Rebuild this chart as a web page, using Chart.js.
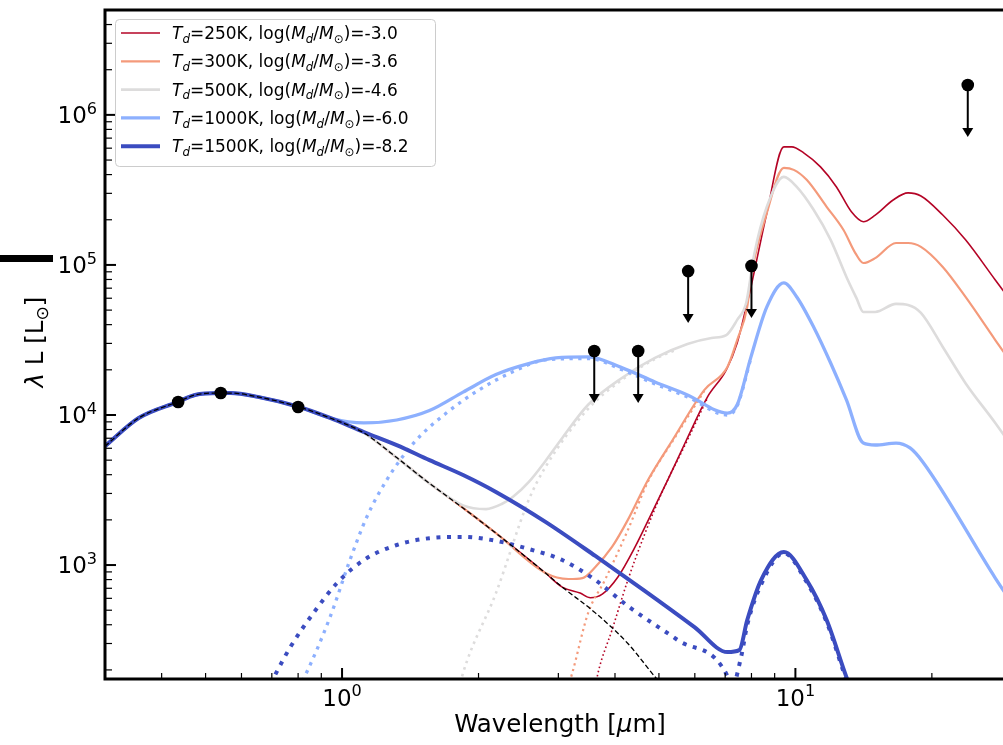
<!DOCTYPE html>
<html>
<head>
<meta charset="utf-8">
<script src="https://cdn.jsdelivr.net/npm/chart.js@4/dist/chart.umd.min.js"></script>
<style>
  html, body { margin: 0; padding: 0; overflow: hidden; background: #fff; }
  canvas { display: block; }
</style>
</head>
<body>
<canvas id="sedChart" width="1018" height="745"></canvas>
<script>
// stellar photosphere (black dashed), wavelength in micron, lambda*L in Lsun
const starLam = [0.3, 0.356, 0.433, 0.474, 0.535, 0.568, 0.652, 0.805, 0.941, 1.117, 1.32, 1.559, 1.849, 2.185, 2.81, 3.06, 3.62, 4.27, 4.97, 5.6];
const starL = [6.2e3, 9.55e3, 1.22e4, 1.36e4, 1.40e4, 1.40e4, 1.32e4, 1.13e4, 9.55e3, 7.6e3, 5.2e3, 3.5e3, 2.40e3, 1.63e3, 885, 713, 480, 300, 171, 115];

// star + dust totals: each one follows the photosphere up to where the dust takes over
const tail1500Lam = [1.117, 1.32, 1.559, 1.849, 2.185, 2.81, 3.62, 4.66, 5.99, 7.08, 7.52, 7.83, 8.4, 9.43, 10.59, 11.72, 12.96, 13.8];
const tail1500L = [7.7e3, 6.3e3, 5.0e3, 3.98e3, 3.07e3, 1.94e3, 1.15e3, 671, 386, 263, 271, 430, 794, 1.22e3, 794, 430, 179, 110];
const tail1000Lam = [1.117, 1.32, 1.559, 1.849, 2.185, 2.58, 2.96, 3.49, 4.15, 4.9, 5.78, 7.08, 7.44, 7.98, 8.65, 9.43, 10.07, 10.97, 11.96, 12.96, 14.12, 15.0, 16.67, 17.9, 19.1, 27.6, 30];
const tail1000L = [8.85e3, 9.26e3, 1.07e4, 1.42e4, 1.86e4, 2.2e4, 2.4e4, 2.44e4, 2.06e4, 1.66e4, 1.36e4, 1.03e4, 1.17e4, 2.44e4, 5.25e4, 7.59e4, 6.12e4, 3.86e4, 2.22e4, 1.26e4, 6.5e3, 6.31e3, 6.5e3, 6.03e3, 4.86e3, 819, 560];
const tail500Lam = [1.849, 2.078, 2.25, 2.38, 2.58, 2.81, 3.06, 3.49, 4.15, 4.9, 5.78, 6.53, 7.04, 7.44, 7.79, 8.11, 8.65, 9.43, 10.07, 10.97, 11.96, 12.96, 13.63, 14.12, 15.0, 16.67, 17.72, 18.92, 21.14, 23.73, 27.6, 30];
const tail500L = [2.5e3, 2.36e3, 2.55e3, 2.84e3, 3.57e3, 4.94e3, 7.03e3, 1.17e4, 1.77e4, 2.4e4, 2.97e4, 3.26e4, 3.41e4, 4.3e4, 5.6e4, 1.17e5, 2.44e5, 3.86e5, 3.31e5, 2.33e5, 1.47e5, 8.32e4, 6.03e4, 4.86e4, 4.86e4, 5.5e4, 5.41e4, 4.79e4, 2.84e4, 1.63e4, 8.85e3, 6.2e3];
const tail300Lam = [3.16, 3.39, 3.62, 3.94, 4.27, 4.73, 5.36, 6.3, 7.08, 7.44, 7.83, 7.98, 8.65, 9.43, 9.92, 10.59, 11.72, 12.77, 13.56, 14.12, 15.0, 16.67, 17.72, 18.92, 21.14, 23.73, 27.6, 30];
const tail300L = [807, 819, 970, 1.32e3, 2.0e3, 3.69e3, 6.81e3, 1.47e4, 2.09e4, 3.16e4, 5.25e4, 8.32e4, 2.22e5, 4.43e5, 4.30e5, 3.69e5, 2.44e5, 1.71e5, 1.2e5, 1.03e5, 1.11e5, 1.4e5, 1.4e5, 1.32e5, 9.7e4, 6.12e4, 3.16e4, 2.2e4];
const tail250Lam = [3.35, 3.53, 3.75, 4.06, 4.43, 4.82, 5.23, 5.75, 6.4, 7.04, 7.44, 7.79, 7.98, 8.65, 9.43, 9.82, 10.43, 11.36, 12.32, 13.29, 14.12, 15.0, 16.43, 17.72, 18.92, 21.14, 23.73, 27.6, 30];
const tail250L = [650, 605, 640, 832, 1.32e3, 2.22e3, 3.69e3, 6.81e3, 1.32e4, 2.0e4, 3.02e4, 5.25e4, 7.13e4, 2.22e5, 6.12e5, 6.12e5, 5.58e5, 4.5e5, 3.31e5, 2.26e5, 1.94e5, 2.15e5, 2.71e5, 3.02e5, 2.88e5, 2.15e5, 1.47e5, 7.94e4, 5.65e4];

// dust-only emission (dotted)
const dust1500Lam = [0.678, 0.769, 0.868, 0.975, 1.117, 1.32, 1.559, 1.849, 2.185, 2.58, 3.06, 3.62, 4.27, 5.5, 7.08, 7.22, 7.59, 7.83, 8.4, 9.43, 10.59, 11.72, 12.96, 13.8];
const dust1500L = [140, 284, 486, 759, 1.08e3, 1.36e3, 1.51e3, 1.54e3, 1.45e3, 1.28e3, 1.08e3, 794, 533, 316, 182, 150, 244, 399, 741, 1.2e3, 770, 417, 171, 105];
const dust1000Lam = [0.8, 0.826, 0.941, 1.041, 1.134, 1.255, 1.438, 1.698, 2.006, 2.38, 2.81, 3.49, 4.15, 4.9, 5.78, 7.08, 7.44, 7.98];
const dust1000L = [150, 179, 450, 1.08e3, 2.09e3, 3.69e3, 6.5e3, 1.03e4, 1.47e4, 1.94e4, 2.33e4, 2.38e4, 2.0e4, 1.61e4, 1.32e4, 1.0e4, 1.15e4, 2.4e4];
const dust500Lam = [1.78, 1.849, 2.185, 2.58, 2.81, 3.49, 4.15, 4.9, 5.5];
const dust500L = [120, 191, 650, 2.71e3, 4.5e3, 1.1e4, 1.72e4, 2.36e4, 2.75e4];
const dust300Lam = [3.12, 3.22, 3.49, 3.8, 4.27, 4.73, 5.36, 6.3];
const dust300L = [140, 191, 479, 794, 1.71e3, 3.6e3, 6.7e3, 1.45e4];
const dust250Lam = [3.6, 3.67, 3.94, 4.27, 4.66, 5.07, 5.75, 6.4];
const dust250L = [140, 191, 369, 794, 1.63e3, 3.02e3, 6.6e3, 1.3e4];

// photometry: optical detections and IR upper limits
const detLam = [0.435, 0.54, 0.80];
const detL = [1.22e4, 1.40e4, 1.13e4];
const ulLam = [3.6, 4.5, 5.8, 8.0, 24];
const ulL = [2.67e4, 2.67e4, 9.1e4, 9.85e4, 1.58e6];

// model labels: temperature and log dust mass
const modelT = ['250', '300', '500', '1000', '1500'];
const modelM = ['-3.0', '-3.6', '-4.6', '-6.0', '-8.2'];
const modelColor = ['#b40426', '#f49a7b', '#dddcdc', '#8db0fe', '#3b4cc0'];
const modelWidth = [1.6, 2.2, 2.6, 3.3, 4];

const xTicks = [1, 10];
const yTicks = [1e3, 1e4, 1e5, 1e6];

function pts(lam, L) {
  return lam.map((v, i) => ({ x: v, y: L[i] }));
}

function total(n, lam, L) {
  return pts(starLam.slice(0, n).concat(lam), starL.slice(0, n).concat(L));
}

const totals = [
  total(16, tail250Lam, tail250L),
  total(15, tail300Lam, tail300L),
  total(12, tail500Lam, tail500L),
  total(9, tail1000Lam, tail1000L),
  total(9, tail1500Lam, tail1500L)
];
const dusts = [
  pts(dust250Lam, dust250L),
  pts(dust300Lam, dust300L),
  pts(dust500Lam, dust500L),
  pts(dust1000Lam, dust1000L),
  pts(dust1500Lam, dust1500L)
];

// bottom to top
let datasets = [];
for (let i = 0; i < 5; i++) {
  const w = modelWidth[i];
  datasets.push({
    data: dusts[i], borderColor: modelColor[i], borderWidth: w,
    borderDash: [w, w * 1.65], borderCapStyle: 'butt'
  });
  datasets.push({ data: totals[i], borderColor: modelColor[i], borderWidth: w });
}
datasets.push({ data: pts(starLam, starL), borderColor: '#000', borderWidth: 1.3, borderDash: [5, 2.6] });
datasets.forEach(d => {
  d.showLine = true;
  d.pointRadius = 0;
  d.cubicInterpolationMode = 'monotone';
  d.clip = 0;
});
datasets.push({ data: pts(ulLam, ulL), showLine: false, pointRadius: 6.3, backgroundColor: '#000', borderWidth: 0 });
datasets.push({ data: pts(detLam, detL), showLine: false, pointRadius: 6.3, backgroundColor: '#000', borderWidth: 0 });
datasets.forEach((d, i) => { d.order = -i; });

const FONT = '"DejaVu Sans"';

function richWidth(ctx, parts, size) {
  let w = 0;
  parts.forEach(p => {
    const s = (p.sub || p.sup) ? size * 0.7 : size;
    ctx.font = (p.it ? 'italic ' : '') + s + 'px ' + FONT;
    w += ctx.measureText(p.t).width;
  });
  return w;
}

function drawRich(ctx, parts, x, y, size) {
  parts.forEach(p => {
    const s = (p.sub || p.sup) ? size * 0.7 : size;
    ctx.font = (p.it ? 'italic ' : '') + s + 'px ' + FONT;
    const dy = p.sub ? size * 0.22 : (p.sup ? -size * 0.42 : 0);
    ctx.fillText(p.t, x, y + dy);
    x += ctx.measureText(p.t).width;
  });
}

function powLabel(v) {
  return [{ t: '10' }, { t: String(Math.round(Math.log10(v))), sup: true }];
}

// frame, inward ticks, labels, upper-limit arrows and legend
const framePlugin = {
  id: 'framePlugin',
  afterDatasetsDraw(chart) {
    const { ctx, chartArea: a, scales: { x, y } } = chart;
    ctx.save();
    ctx.fillStyle = '#000';
    ctx.strokeStyle = '#000';

    // upper limit arrows
    ulLam.forEach((lam, i) => {
      const px = x.getPixelForValue(lam);
      const py = y.getPixelForValue(ulL[i]);
      ctx.lineWidth = 2;
      ctx.beginPath();
      ctx.moveTo(px, py);
      ctx.lineTo(px, py + 44);
      ctx.stroke();
      ctx.beginPath();
      ctx.moveTo(px - 5.5, py + 43);
      ctx.lineTo(px + 5.5, py + 43);
      ctx.lineTo(px, py + 52);
      ctx.closePath();
      ctx.fill();
    });

    // minor and major ticks pointing inward
    for (let d = -1; d <= 1; d++) {
      for (let m = 1; m <= 9; m++) {
        const v = m * Math.pow(10, d);
        if (v < x.min || v > x.max) continue;
        const px = x.getPixelForValue(v);
        const major = m === 1;
        ctx.lineWidth = major ? 2 : 1.2;
        ctx.beginPath();
        ctx.moveTo(px, a.bottom);
        ctx.lineTo(px, a.bottom - (major ? 11 : 6));
        ctx.stroke();
      }
    }
    for (let d = 2; d <= 6; d++) {
      for (let m = 1; m <= 9; m++) {
        const v = m * Math.pow(10, d);
        if (v < y.min || v > y.max) continue;
        const py = y.getPixelForValue(v);
        const major = m === 1;
        ctx.lineWidth = major ? 2 : 1.2;
        ctx.beginPath();
        ctx.moveTo(a.left, py);
        ctx.lineTo(a.left + (major ? 11 : 7), py);
        ctx.stroke();
      }
    }

    // spines
    ctx.lineWidth = 3;
    ctx.beginPath();
    ctx.moveTo(a.right + 2, a.top);
    ctx.lineTo(a.left, a.top);
    ctx.lineTo(a.left, a.bottom);
    ctx.lineTo(a.right + 2, a.bottom);
    ctx.stroke();

    // tick labels
    ctx.textBaseline = 'alphabetic';
    const ts = 23;
    xTicks.forEach(v => {
      const parts = powLabel(v);
      const w = richWidth(ctx, parts, ts);
      drawRich(ctx, parts, x.getPixelForValue(v) - w / 2, 706, ts);
    });
    yTicks.forEach(v => {
      const parts = powLabel(v);
      const w = richWidth(ctx, parts, ts);
      drawRich(ctx, parts, 97 - w, y.getPixelForValue(v) + ts * 0.365, ts);
    });

    // axis titles
    const as = 24.5;
    const xt = [{ t: 'Wavelength [' }, { t: 'μ', it: true }, { t: 'm]' }];
    const xw = richWidth(ctx, xt, as);
    drawRich(ctx, xt, 560 - xw / 2, 732, as);

    const yt = [{ t: 'λ', it: true }, { t: ' L [L' }, { t: '⊙', sub: true }, { t: ']' }];
    const yw = richWidth(ctx, yt, as);
    ctx.save();
    ctx.translate(43, 342);
    ctx.rotate(-Math.PI / 2);
    drawRich(ctx, yt, -yw / 2, 0, as);
    ctx.restore();

    // stray bar at the left edge
    ctx.fillRect(0, 255, 53, 7);

    // legend
    const lx = 115, ly = 19, lw = 320, lh = 147;
    ctx.beginPath();
    ctx.roundRect(lx + 0.5, ly + 0.5, lw, lh, 4);
    ctx.fillStyle = 'rgba(255,255,255,0.8)';
    ctx.fill();
    ctx.strokeStyle = '#cccccc';
    ctx.lineWidth = 1;
    ctx.stroke();
    const fs = 17;
    modelT.forEach((t, i) => {
      const ry = 33 + i * 28.3;
      ctx.strokeStyle = modelColor[i];
      ctx.lineWidth = modelWidth[i];
      ctx.beginPath();
      ctx.moveTo(121, ry);
      ctx.lineTo(160, ry);
      ctx.stroke();
      ctx.fillStyle = '#000';
      drawRich(ctx, [
        { t: 'T', it: true }, { t: 'd', it: true, sub: true },
        { t: '=' + t + 'K, log(' },
        { t: 'M', it: true }, { t: 'd', it: true, sub: true }, { t: '/' },
        { t: 'M', it: true }, { t: '⊙', sub: true },
        { t: ')=' + modelM[i] }
      ], 172, ry + fs * 0.36, fs);
    });
    ctx.restore();
  }
};

new Chart(document.getElementById('sedChart'), {
  type: 'scatter',
  data: { datasets: datasets },
  options: {
    responsive: false,
    animation: false,
    devicePixelRatio: 1,
    events: [],
    layout: { padding: { left: 105, right: 0, top: 10, bottom: 66 } },
    plugins: { legend: { display: false }, tooltip: { enabled: false } },
    scales: {
      x: { type: 'logarithmic', min: 0.3, max: 30, display: false },
      y: { type: 'logarithmic', min: 174, max: 5e6, display: false }
    }
  },
  plugins: [framePlugin]
});
</script>
</body>
</html>
